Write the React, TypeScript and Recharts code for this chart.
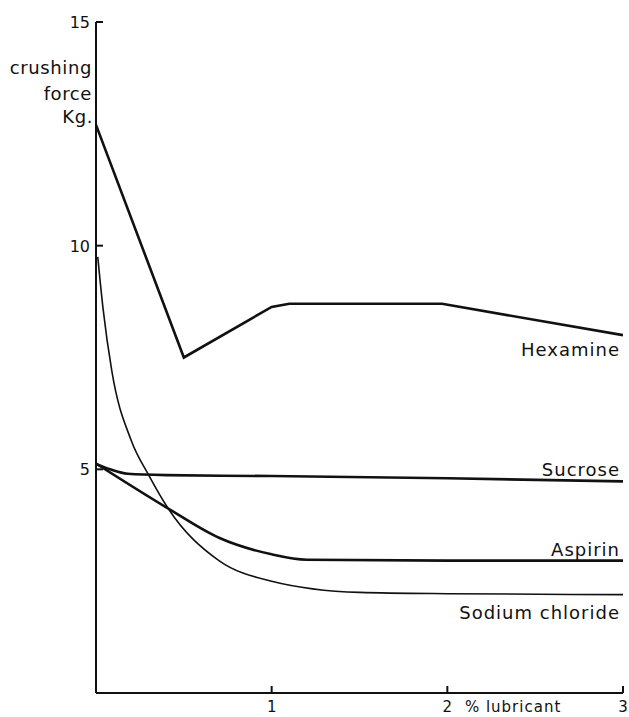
import React from 'react';
import { LineChart, Line, XAxis, YAxis } from 'recharts';

const xTicks = [1, 2, 3];
const yTicks = [5, 10, 15];

const hexamineX = [0, 0.5, 1.0, 1.1, 1.97, 3.0];
const hexamineY = [12.7, 7.5, 8.63, 8.7, 8.7, 8.0];

const sucroseX = [0, 0.08, 0.18, 0.4, 1, 2, 3];
const sucroseY = [5.12, 5.0, 4.9, 4.87, 4.85, 4.8, 4.73];

const aspirinX = [0, 0.4, 0.7, 1.0, 1.2, 2, 3];
const aspirinY = [5.13, 4.15, 3.47, 3.1, 2.98, 2.96, 2.96];

const sodiumX = [0.01, 0.04, 0.09, 0.2, 0.3, 0.41, 0.7, 1.0, 1.5, 2, 3];
const sodiumY = [9.75, 8.6, 7.2, 5.65, 4.87, 4.13, 2.96, 2.5, 2.25, 2.22, 2.2];

const seriesNames = ['Hexamine', 'Sucrose', 'Aspirin', 'Sodium chloride'];

const build = (xs: number[], ys: number[]) => xs.map((x, i) => ({ x, y: ys[i] }));

const hexamine = build(hexamineX, hexamineY);
const sucrose = build(sucroseX, sucroseY);
const aspirin = build(aspirinX, aspirinY);
const sodium = build(sodiumX, sodiumY);

const INK = '#111';
const FONT = 'DejaVu Sans';

const endLabel = (name: string, count: number, dy: number) => (props: any) => {
  const { x, y, index } = props;
  if (index !== count - 1) return <g />;
  return (
    <text x={x - 3} y={y + dy} textAnchor="end" fontFamily={FONT} fontSize={18} letterSpacing={1} fill={INK}>
      {name}
    </text>
  );
};

const YTick = (props: any) => {
  const { x, y, payload } = props;
  return (
    <g>
      <line x1={x} y1={y} x2={x + 7} y2={y} stroke={INK} strokeWidth={2} />
      <text x={x - 6} y={y + 6} textAnchor="end" fontFamily={FONT} fontSize={16} fill={INK}>
        {payload.value}
      </text>
    </g>
  );
};

const XTick = (props: any) => {
  const { x, y, payload } = props;
  return (
    <g>
      <line x1={x} y1={y} x2={x} y2={y - 7} stroke={INK} strokeWidth={2} />
      <text x={x} y={y + 19} textAnchor="middle" fontFamily={FONT} fontSize={15} fill={INK}>
        {payload.value}
      </text>
    </g>
  );
};

const YLabel = (props: any) => {
  const vb = props.viewBox || {};
  const x = (vb.x ?? 0) + (vb.width ?? 96) - 4;
  const y0 = vb.y ?? 22;
  return (
    <g fontFamily={FONT} fontSize={18} fill={INK} letterSpacing={0.6}>
      <text x={x} y={y0 + 52} textAnchor="end">crushing</text>
      <text x={x} y={y0 + 78} textAnchor="end">force</text>
      <text x={x + 1} y={y0 + 101} textAnchor="end">Kg.</text>
    </g>
  );
};

const XLabel = (props: any) => {
  const vb = props.viewBox || {};
  const x0 = vb.x ?? 96;
  const w = vb.width ?? 527;
  const y = vb.y ?? 693;
  return (
    <text x={x0 + w * 0.70} y={y + 19} textAnchor="start" fontFamily={FONT} fontSize={15} letterSpacing={1} fill={INK}>
      % lubricant
    </text>
  );
};

export default function App() {
  return (
    <div style={{ position: 'absolute', left: 0, top: 0, background: '#fff' }}>
      <LineChart width={629} height={717} margin={{ top: 22, right: 6, left: 0, bottom: 0 }}>
        <XAxis
          type="number"
          dataKey="x"
          domain={[0, 3]}
          ticks={xTicks}
          height={24}
          tickSize={0}
          tickMargin={0}
          tickLine={false}
          axisLine={{ stroke: INK, strokeWidth: 2 }}
          tick={<XTick />}
          label={<XLabel />}
          allowDataOverflow
        />
        <YAxis
          type="number"
          dataKey="y"
          domain={[0, 15]}
          ticks={yTicks}
          width={96}
          tickSize={0}
          tickMargin={0}
          tickLine={false}
          axisLine={{ stroke: INK, strokeWidth: 2 }}
          tick={<YTick />}
          label={<YLabel />}
          allowDataOverflow
        />
        <Line
          data={hexamine}
          dataKey="y"
          name={seriesNames[0]}
          type="linear"
          stroke={INK}
          strokeWidth={2.6}
          dot={false}
          isAnimationActive={false}
          label={endLabel(seriesNames[0], hexamine.length, 21)}
        />
        <Line
          data={sucrose}
          dataKey="y"
          name={seriesNames[1]}
          type="monotone"
          stroke={INK}
          strokeWidth={2.6}
          dot={false}
          isAnimationActive={false}
          label={endLabel(seriesNames[1], sucrose.length, -5)}
        />
        <Line
          data={aspirin}
          dataKey="y"
          name={seriesNames[2]}
          type="monotone"
          stroke={INK}
          strokeWidth={2.6}
          dot={false}
          isAnimationActive={false}
          label={endLabel(seriesNames[2], aspirin.length, -5)}
        />
        <Line
          data={sodium}
          dataKey="y"
          name={seriesNames[3]}
          type="monotone"
          stroke={INK}
          strokeWidth={1.6}
          dot={false}
          isAnimationActive={false}
          label={endLabel(seriesNames[3], sodium.length, 24)}
        />
      </LineChart>
    </div>
  );
}
